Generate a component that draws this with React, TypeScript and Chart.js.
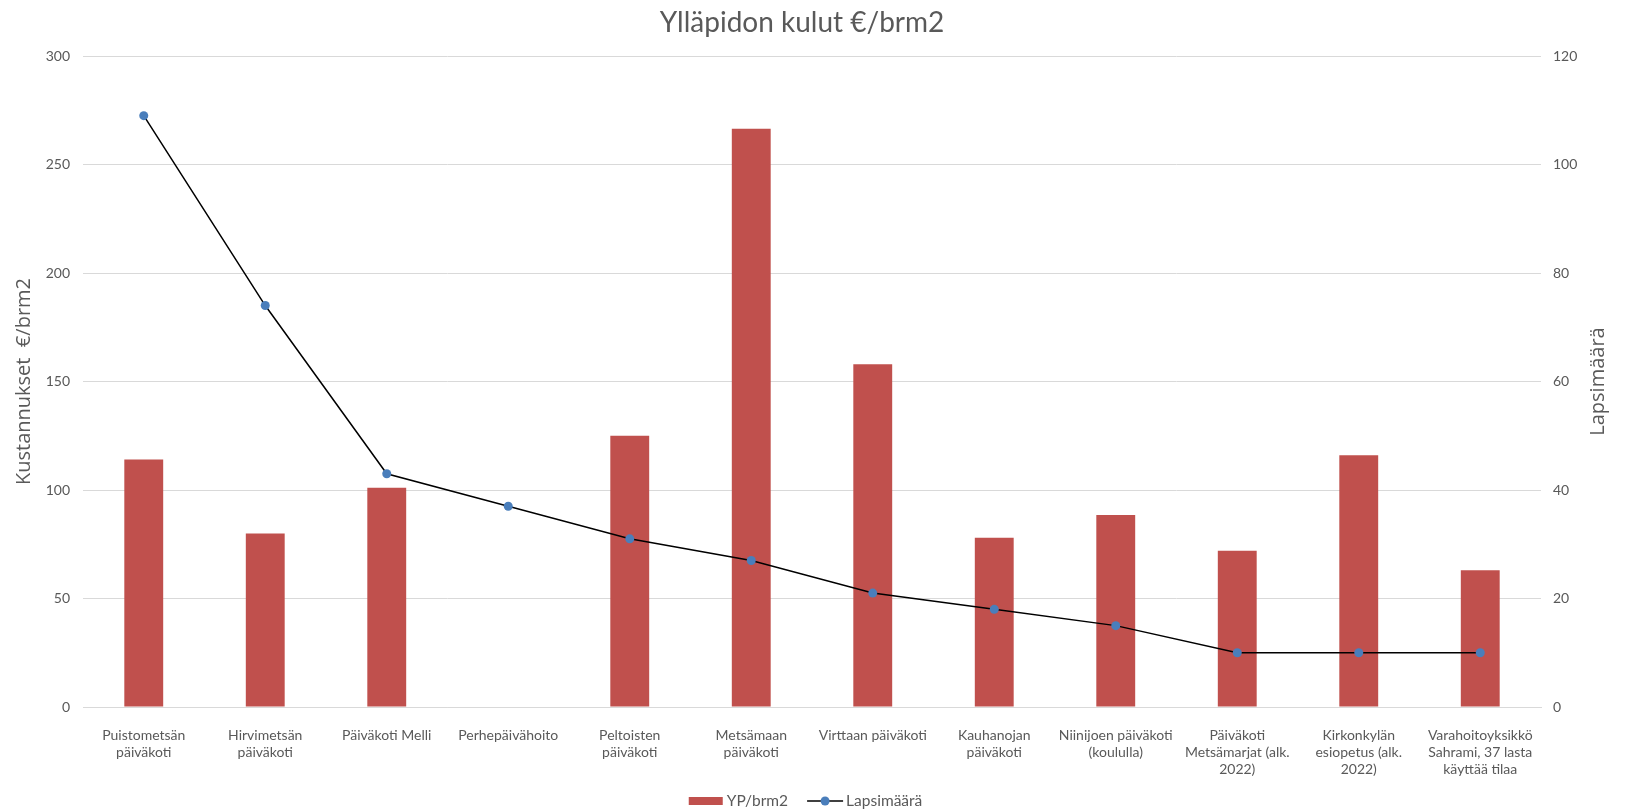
import React, { useEffect, useRef } from "react";
import { Chart, registerables } from "chart.js";

Chart.register(...registerables);

const categories: (string | string[])[] = [
  ["Puistometsän", "päiväkoti"],
  ["Hirvimetsän", "päiväkoti"],
  "Päiväkoti Melli",
  "Perhepäivähoito",
  ["Peltoisten", "päiväkoti"],
  ["Metsämaan", "päiväkoti"],
  "Virttaan päiväkoti",
  ["Kauhanojan", "päiväkoti"],
  ["Niinijoen päiväkoti", "(koululla)"],
  ["Päiväkoti", "Metsämarjat (alk.", "2022)"],
  ["Kirkonkylän", "esiopetus (alk.", "2022)"],
  ["Varahoitoyksikkö", "Sahrami, 37 lasta", "käyttää tilaa"],
];

const ypPerBrm2: (number | null)[] = [114, 80, 101, null, 125, 266.5, 158, 78, 88.5, 72, 116, 63];
const lapsimaara: number[] = [109, 74, 43, 37, 31, 27, 21, 18, 15, 10, 10, 10];

const TITLE = "Ylläpidon kulut €/brm2";
const LEFT_TITLE = "Kustannukset  €/brm2";
const RIGHT_TITLE = "Lapsimäärä";

const BAR_COLOR = "#C0504D";
const POINT_COLOR = "#4A7EBB";
const TEXT_COLOR = "#595959";
const GRID_COLOR = "#D9D9D9";
const FONT = "Lato, 'Open Sans', sans-serif";
const AXIS_TITLE_FONT = "'Open Sans', sans-serif";

const decorPlugin = {
  id: "decor",
  afterDraw(chart: any) {
    const ctx: CanvasRenderingContext2D = chart.ctx;
    const area = chart.chartArea;
    ctx.save();
    // Title
    ctx.fillStyle = TEXT_COLOR;
    ctx.font = `28px ${FONT}`;
    ctx.textAlign = "center";
    ctx.textBaseline = "middle";
    ctx.fillText(TITLE, 802, 23);

    // Right axis title, reading bottom to top
    ctx.save();
    ctx.translate(1598, (area.top + area.bottom) / 2);
    ctx.rotate(-Math.PI / 2);
    ctx.font = `20px ${AXIS_TITLE_FONT}`;
    ctx.textAlign = "center";
    ctx.textBaseline = "middle";
    ctx.fillText(RIGHT_TITLE, 0, 0);
    ctx.restore();

    // Legend
    const ds = chart.data.datasets;
    ctx.font = `15.5px ${FONT}`;
    ctx.textBaseline = "middle";
    ctx.textAlign = "left";
    const t1 = ds[0].label as string;
    const t2 = ds[1].label as string;
    const w1 = ctx.measureText(t1).width;
    const w2 = ctx.measureText(t2).width;
    const boxW = 34, boxH = 8, gapBox = 4, gapItems = 19, lineW = 36, gapLine = 3;
    const total = boxW + gapBox + w1 + gapItems + lineW + gapLine + w2;
    const cy = 801;
    let x = 805.5 - total / 2;
    ctx.fillStyle = BAR_COLOR;
    ctx.fillRect(x, cy - boxH / 2, boxW, boxH);
    x += boxW + gapBox;
    ctx.fillStyle = TEXT_COLOR;
    ctx.fillText(t1, x, cy);
    x += w1 + gapItems;
    ctx.strokeStyle = "#000";
    ctx.lineWidth = 1.5;
    ctx.beginPath();
    ctx.moveTo(x, cy);
    ctx.lineTo(x + lineW, cy);
    ctx.stroke();
    ctx.fillStyle = POINT_COLOR;
    ctx.beginPath();
    ctx.arc(x + lineW / 2, cy, 4.5, 0, Math.PI * 2);
    ctx.fill();
    x += lineW + gapLine;
    ctx.fillStyle = TEXT_COLOR;
    ctx.fillText(t2, x, cy);
    ctx.restore();
  },
};

export default function App() {
  const ref = useRef<HTMLCanvasElement | null>(null);

  useEffect(() => {
    if (!ref.current) return;
    const chart = new Chart(ref.current, {
      type: "bar",
      data: {
        labels: categories,
        datasets: [
          {
            type: "bar",
            label: "YP/brm2",
            data: ypPerBrm2,
            backgroundColor: BAR_COLOR,
            yAxisID: "y",
            order: 2,
            categoryPercentage: 1,
            barPercentage: 0.32,
          },
          {
            type: "line",
            label: "Lapsimäärä",
            data: lapsimaara,
            borderColor: "#000000",
            borderWidth: 1.5,
            backgroundColor: POINT_COLOR,
            pointBackgroundColor: POINT_COLOR,
            pointBorderColor: POINT_COLOR,
            pointRadius: 4.5,
            pointBorderWidth: 0,
            tension: 0,
            yAxisID: "y1",
            order: 1,
          },
        ],
      },
      plugins: [decorPlugin],
      options: {
        responsive: false,
        animation: false,
        maintainAspectRatio: false,
        layout: { padding: { top: 56, bottom: 25, left: 0, right: 0 } },
        plugins: {
          title: { display: false },
          legend: { display: false },
          tooltip: { enabled: false },
        },
        scales: {
          x: {
            grid: { display: false },
            border: { display: true, color: GRID_COLOR, width: 1 },
            ticks: {
              color: TEXT_COLOR,
              font: { family: FONT, size: 14 },
              autoSkip: false,
              maxRotation: 0,
              minRotation: 0,
              padding: 12,
            },
            afterFit: (s: any) => {
              s.height = 80;
            },
          },
          y: {
            position: "left",
            min: 0,
            max: 300,
            ticks: {
              stepSize: 50,
              color: TEXT_COLOR,
              font: { family: FONT, size: 14 },
              padding: 13,
            },
            grid: { color: GRID_COLOR, drawTicks: false, lineWidth: 1 },
            border: { display: false },
            title: {
              display: true,
              text: LEFT_TITLE,
              color: TEXT_COLOR,
              font: { family: AXIS_TITLE_FONT, size: 20 },
              padding: { top: 12, bottom: 0 },
            },
            afterFit: (s: any) => {
              s.width = 83;
            },
          },
          y1: {
            position: "right",
            min: 0,
            max: 120,
            ticks: {
              stepSize: 20,
              color: TEXT_COLOR,
              font: { family: FONT, size: 14 },
              padding: 12,
            },
            grid: { display: false, drawTicks: false },
            border: { display: false },
            title: { display: false },
            afterFit: (s: any) => {
              s.width = 86;
            },
          },
        },
      },
    });
    return () => chart.destroy();
  }, []);

  return (
    <div style={{ position: "fixed", left: 0, top: 0, width: 1627, height: 812, background: "#fff" }}>
      <canvas ref={ref} width={1627} height={812} style={{ display: "block", width: 1627, height: 812 }} />
    </div>
  );
}
